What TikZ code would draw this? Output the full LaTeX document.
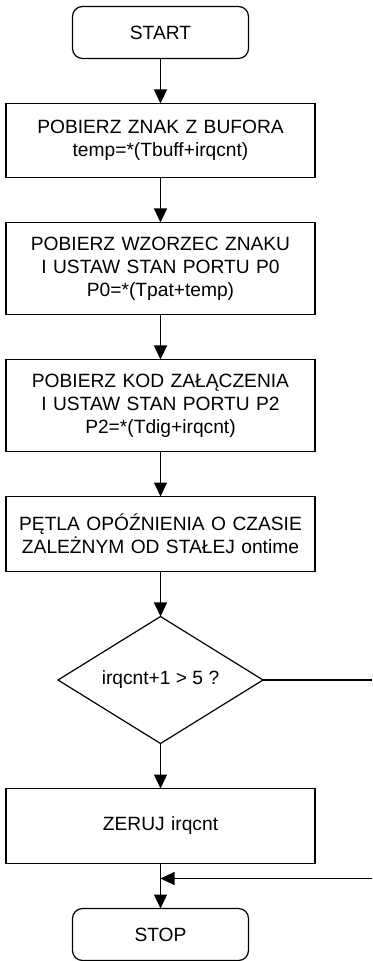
\documentclass[tikz,border=0pt]{standalone}
\usepackage{fontspec}
\setmainfont{Liberation Sans}
\usetikzlibrary{shapes.geometric, arrows.meta, positioning}

\begin{document}
\begin{tikzpicture}[
    node distance = 22.5pt,
    line width = 0.6pt,
    every node/.style = {font=\fontsize{9.6}{11.4}\selectfont, outer sep=0pt},
    term/.style = {rectangle, rounded corners=5pt, draw, minimum width=88pt, minimum height=26pt},
    box/.style = {rectangle, draw, text width=150pt, inner xsep=2.25pt, align=center, minimum height=37pt},
    tallbox/.style = {box, minimum height=46pt},
    decision/.style = {diamond, draw, minimum width=102.5pt, minimum height=63.5pt, inner sep=0pt},
    arrow/.style = {-{Triangle[length=7pt, width=6.5pt]}}
]
\useasboundingbox (-80.25pt,16.25pt) rectangle (105.75pt,-464.25pt);

% Define nodes
\node[term] (start) {START};
\node[box, below=of start] (getchar) {POBIERZ ZNAK Z BUFORA\\temp=*(Tbuff+irqcnt)};
\node[tallbox, below=of getchar] (setpzero) {POBIERZ WZORZEC ZNAKU\\I USTAW STAN PORTU P0\\P0=*(Tpat+temp)};
\node[tallbox, below=of setpzero] (setptwo) {POBIERZ KOD ZAŁĄCZENIA\\I USTAW STAN PORTU P2\\P2=*(Tdig+irqcnt)};
\node[box, minimum height=37.5pt, below=of setptwo] (delay) {PĘTLA OPÓŹNIENIA O CZASIE\\ZALEŻNYM OD STAŁEJ ontime};
\node[decision, below=of delay, label={center:irqcnt+1 > 5 ?}] (check) {};
\node[box, minimum height=37.5pt, below=of check] (reset) {ZERUJ irqcnt};
\node[term, below=of reset] (stop) {STOP};

% Free ends at the right edge
\coordinate (rightedge) at (105.75pt,0);
\coordinate (join) at ([yshift=-7.5pt]reset.south);
\coordinate (exit) at (check.east -| rightedge);
\coordinate (back) at (join -| rightedge);

% Draw arrows
\draw[arrow] (start) -- (getchar);
\draw[arrow] (getchar) -- (setpzero);
\draw[arrow] (setpzero) -- (setptwo);
\draw[arrow] (setptwo) -- (delay);
\draw[arrow] (delay) -- (check);
\draw[arrow] (check) -- (reset);
\draw[arrow] (reset) -- (stop);
\draw (check.east) -- (exit);
\draw[arrow] (back) -- (join);

\end{tikzpicture}
\end{document}
